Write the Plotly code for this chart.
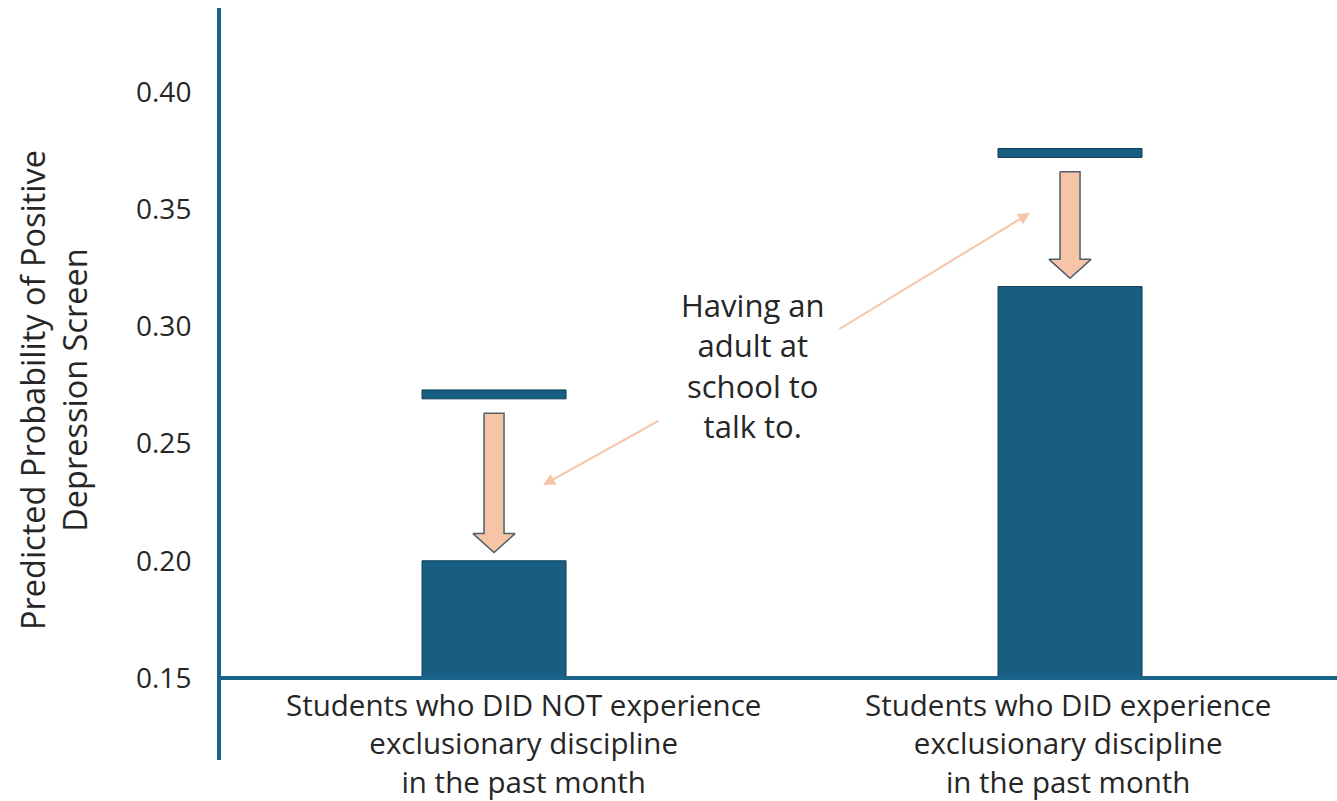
import plotly.graph_objects as go

# ---- data ----
categories = ["Students who DID NOT experience<br>exclusionary discipline<br>in the past month",
              "Students who DID experience<br>exclusionary discipline<br>in the past month"]
with_adult = [0.200, 0.317]      # bars: predicted probability with an adult to talk to
without_adult = [0.271, 0.374]   # markers: predicted probability without
tick_vals = [0.15, 0.20, 0.25, 0.30, 0.35, 0.40]
tick_text = ["0.15", "0.20", "0.25", "0.30", "0.35", "0.40"]
callout_text = "Having an<br>adult at<br>school to<br>talk to."
y_title = "Predicted Probability of Positive<br>Depression Screen"

# ---- styles ----
BAR = "#175E82"
BAR_EDGE = "#0E3D55"
AXIS = "#1B6489"
PEACH = "#F6C4A7"
PEACH_EDGE = "#4F5E68"
TXT = "#262626"
FONT = "Open Sans, Arial, sans-serif"

base = 0.15
ymin, ymax = 0.11502, 0.43584
xmin, xmax = -0.474, 1.4635
xpos = [0, 1]
bar_w = 0.25
marker_h = 0.0038

fig = go.Figure()

# bars
fig.add_trace(go.Bar(x=xpos, y=[v - base for v in with_adult], base=base, width=bar_w,
                     marker=dict(color=BAR, line=dict(color=BAR_EDGE, width=1)),
                     hoverinfo="skip", showlegend=False))
# thin markers (without adult)
fig.add_trace(go.Bar(x=xpos, y=[marker_h] * 2, base=[v - marker_h / 2 for v in without_adult],
                     width=bar_w, marker=dict(color=BAR, line=dict(color=BAR_EDGE, width=1)),
                     hoverinfo="skip", showlegend=False))

# block arrows from marker down to bar
shaft_hw = 0.0174
head_hw = 0.0365
head_h = 0.0081
gap_top = 0.008
gap_bot = 0.0035
for xc, top_v, bot_v in zip(xpos, without_adult, with_adult):
    yt = top_v - gap_top
    tip = bot_v + gap_bot
    hb = tip + head_h
    xs = [xc - shaft_hw, xc + shaft_hw, xc + shaft_hw, xc + head_hw, xc, xc - head_hw, xc - shaft_hw, xc - shaft_hw]
    ys = [yt, yt, hb, hb, tip, hb, hb, yt]
    fig.add_trace(go.Scatter(x=xs, y=ys, mode="lines", fill="toself", fillcolor=PEACH,
                             line=dict(color=PEACH_EDGE, width=1.5), hoverinfo="skip",
                             showlegend=False))

annotations = []
# category labels
label_shift = [29, -2]
for xc, lab, sh in zip(xpos, categories, label_shift):
    annotations.append(dict(x=xc, y=(760 - 682) / 752, xref="x", yref="paper", text=lab,
                            showarrow=False, xanchor="center", yanchor="top", xshift=sh,
                            font=dict(size=29.5, color=TXT, family=FONT), align="center"))
# y title
annotations.append(dict(x=-0.1505, y=0.492, xref="paper", yref="paper", text=y_title,
                        textangle=-90, showarrow=False, xanchor="center", yanchor="middle",
                        font=dict(size=32.5, color=TXT, family=FONT), align="center"))
# callout
annotations.append(dict(x=0.4497, y=0.2835, xref="x", yref="y", text=callout_text,
                        showarrow=False, xanchor="center", yanchor="middle",
                        font=dict(size=31, color=TXT, family=FONT), align="center"))
# thin arrows
arrow_heads = [(0.085, 0.2323), (0.9306, 0.3484)]
arrow_tails = [(0.288, 0.2601), (0.597, 0.2985)]
for (hx, hy), (tx, ty) in zip(arrow_heads, arrow_tails):
    annotations.append(dict(x=hx, y=hy, ax=tx, ay=ty, xref="x", yref="y", axref="x", ayref="y",
                            text="", showarrow=True, arrowhead=2, arrowsize=1.2, arrowwidth=2,
                            arrowcolor=PEACH))

fig.update_layout(
    width=1337, height=801,
    margin=dict(l=221, r=0, t=8, b=41),
    paper_bgcolor="white", plot_bgcolor="white",
    barmode="overlay",
    annotations=annotations,
    xaxis=dict(range=[xmin, xmax], showgrid=False, zeroline=False, showticklabels=False,
               showline=True, linecolor=AXIS, linewidth=4, anchor="free",
               position=(base - ymin) / (ymax - ymin), fixedrange=True),
    yaxis=dict(range=[ymin, ymax], showgrid=False, zeroline=False, showline=True,
               linecolor=AXIS, linewidth=4, tickvals=tick_vals, ticktext=tick_text,
               ticks="", ticklabelstandoff=20,
               tickfont=dict(size=28, color=TXT, family=FONT)),
)

fig.write_html("out.html")
